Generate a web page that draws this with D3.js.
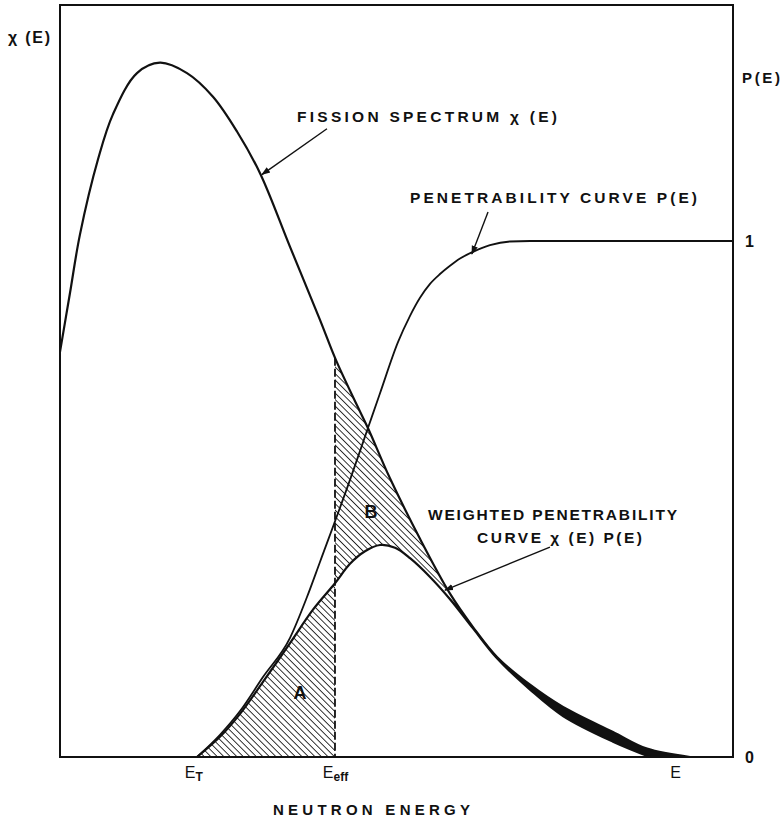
<!DOCTYPE html>
<html><head><meta charset="utf-8">
<script src="https://cdn.jsdelivr.net/npm/d3@7"></script>
<style>
html,body{margin:0;padding:0;background:#fff;}
svg text{font-family:"Liberation Sans",Arial,sans-serif;fill:#111;}
</style></head>
<body>
<svg id="c" width="784" height="817"></svg>
<script>
// ---- data ----
const fissionE   = [0, 0.149, 0.297, 0.565, 0.788, 1.144, 1.486, 1.887, 2.273, 2.630, 2.972, 3.418, 3.863, 4.101, 4.413, 4.577, 4.903, 5.349, 5.795, 6.137, 6.493, 6.984, 7.474, 8.217, 8.722, 9.361];
const fissionChi = [0.583, 0.668, 0.752, 0.860, 0.925, 0.984, 0.999, 0.984, 0.950, 0.900, 0.840, 0.734, 0.629, 0.571, 0.506, 0.473, 0.401, 0.314, 0.235, 0.187, 0.144, 0.104, 0.072, 0.036, 0.012, 0];
const penE = [2.036, 2.377, 2.675, 3.016, 3.418, 3.670, 3.863, 4.309, 4.577, 4.755, 5.022, 5.201, 5.349, 5.498, 5.646, 5.795, 5.944, 6.137, 6.389, 6.686, 6.984, 8.5, 10];
const penP = [0, 0.043, 0.089, 0.155, 0.231, 0.310, 0.378, 0.537, 0.638, 0.705, 0.804, 0.855, 0.890, 0.917, 0.936, 0.952, 0.966, 0.979, 0.992, 0.999, 1.0, 1.0, 1.0];
const weightedE   = [2.036, 2.377, 2.675, 3.016, 3.418, 3.759, 4.086, 4.309, 4.532, 4.755, 4.978, 5.201, 5.498, 5.795, 6.137, 6.493, 6.984, 7.474, 8.217, 8.767];
const weightedChi = [0, 0.029, 0.062, 0.108, 0.164, 0.212, 0.250, 0.278, 0.296, 0.305, 0.301, 0.286, 0.259, 0.227, 0.185, 0.142, 0.097, 0.059, 0.022, 0];
const Eeff = 4.086;
const Emerge = 6.137;
const bottomTickValues = [1.98, 4.086, 9.14];
const bottomTickMain = ["E", "E", "E"];
const bottomTickSub  = ["T", "eff", ""];
const rightTickValues = [0, 1];
const rightTickLabels = ["0", "1"];

// ---- scales ----
const x = d3.scaleLinear().domain([0, 10]).range([60, 733]);
const yChi = d3.scaleLinear().domain([0, 1]).range([757, 62]);
const yP = d3.scaleLinear().domain([0, 1]).range([757, 241]);
const frame = {l: 60, r: 733, t: 5, b: 757};

const svg = d3.select("#c");
const defs = svg.append("defs");
defs.append("pattern").attr("id","hatch").attr("patternUnits","userSpaceOnUse")
  .attr("width",4.6).attr("height",4.6).attr("patternTransform","rotate(-45)")
  .append("line").attr("x1",0).attr("y1",0).attr("x2",0).attr("y2",4.6)
  .attr("stroke","#111").attr("stroke-width",1.7);
defs.append("marker").attr("id","arr").attr("viewBox","0 0 10 10").attr("refX",9).attr("refY",5)
  .attr("markerWidth",9).attr("markerHeight",9).attr("markerUnits","userSpaceOnUse").attr("orient","auto")
  .append("path").attr("d","M0,1.5 L10,5 L0,8.5 Z").attr("fill","#111");
function clipX(id, x0, x1){
  defs.append("clipPath").attr("id",id).append("rect")
    .attr("x",x0).attr("y",0).attr("width",x1-x0).attr("height",817);
}
clipX("cA", x(0), x(Eeff));
clipX("cB", x(Eeff), x(10));
clipX("cM", x(Emerge), x(10));

const fission = fissionE.map((e,i)=>[e, fissionChi[i]]);
const pen = penE.map((e,i)=>[e, penP[i]]);
const weighted = weightedE.map((e,i)=>[e, weightedChi[i]]);

const curve = d3.curveCatmullRom.alpha(0.5);
const lineChi = d3.line().x(d=>x(d[0])).y(d=>yChi(d[1])).curve(curve);
const lineP = d3.line().x(d=>x(d[0])).y(d=>yP(d[1])).curve(d3.curveMonotoneX);
const areaChi = d3.area().x(d=>x(d[0])).y0(yChi(0)).y1(d=>yChi(d[1])).curve(curve);

// region B (hatched between fission and weighted)
svg.append("path").attr("d", areaChi(fission)).attr("fill","url(#hatch)").attr("clip-path","url(#cB)");
// dense tail -> black band
svg.append("path").attr("d", areaChi(fission)).attr("fill","#111").attr("clip-path","url(#cM)");
// white out under weighted for E>=Eeff
svg.append("path").attr("d", areaChi(weighted)).attr("fill","#fff").attr("clip-path","url(#cB)");
// region A
svg.append("path").attr("d", areaChi(weighted)).attr("fill","url(#hatch)").attr("clip-path","url(#cA)");

// frame
svg.append("rect").attr("x",frame.l).attr("y",frame.t).attr("width",frame.r-frame.l).attr("height",frame.b-frame.t)
  .attr("fill","none").attr("stroke","#111").attr("stroke-width",2);

// curves
const fPath = svg.append("path").attr("d", lineChi(fission)).attr("fill","none").attr("stroke","#111").attr("stroke-width",2.2);
svg.append("path").attr("d", lineP(pen)).attr("fill","none").attr("stroke","#111").attr("stroke-width",1.8);
svg.append("path").attr("d", lineChi(weighted)).attr("fill","none").attr("stroke","#111").attr("stroke-width",2.2);

// dashed E_eff line: find fission curve height at Eeff
function yAtX(node, xt){
  const L = node.getTotalLength(); let lo=0, hi=L;
  for(let k=0;k<40;k++){ const m=(lo+hi)/2; const p=node.getPointAtLength(m); if(p.x<xt) lo=m; else hi=m; }
  return node.getPointAtLength(lo).y;
}
const effTop = yAtX(fPath.node(), x(Eeff));
svg.append("line").attr("x1",x(Eeff)).attr("x2",x(Eeff)).attr("y1",effTop).attr("y2",yChi(0))
  .attr("stroke","#111").attr("stroke-width",1.8).attr("stroke-dasharray","8,3");

// right axis
const rAxis = svg.append("g").attr("transform",`translate(${frame.r},0)`)
  .call(d3.axisRight(yP).tickValues(rightTickValues).tickSize(0).tickPadding(12).tickFormat((d,i)=>rightTickLabels[i]));
rAxis.select(".domain").remove();
rAxis.selectAll("text").attr("font-size",16).attr("font-weight","bold").attr("font-family","Liberation Sans, Arial, sans-serif").attr("fill","#111");

// bottom axis
const bAxis = svg.append("g").attr("transform",`translate(0,${frame.b})`)
  .call(d3.axisBottom(x).tickValues(bottomTickValues).tickSize(0).tickPadding(10).tickFormat(()=>""));
bAxis.select(".domain").remove();
bAxis.selectAll(".tick text").each(function(d,i){
  const t = d3.select(this).attr("font-size",16).attr("font-family","Liberation Sans, Arial, sans-serif").attr("fill","#111").attr("text-anchor","middle");
  t.append("tspan").text(bottomTickMain[i]);
  if(bottomTickSub[i]) t.append("tspan").attr("font-size",12).attr("dy",3).attr("font-weight","bold").text(bottomTickSub[i]);
});

// labels
function label(txt, x0, yb, w, fs, weight){
  return svg.append("text").attr("x",x0).attr("y",yb).attr("font-size",fs).attr("font-weight",weight||"bold")
    .attr("textLength",w).attr("lengthAdjust","spacing").text(txt);
}
label("χ (E)", 8, 43, 42, 16);
label("P(E)", 742, 83, 38, 15);
label("FISSION SPECTRUM  χ (E)", 297, 122, 260, 15.5);
label("PENETRABILITY  CURVE  P(E)", 410, 203, 287, 15.5);
label("WEIGHTED  PENETRABILITY", 428, 520, 249, 15.5);
label("CURVE  χ (E)  P(E)", 477, 543, 165, 15.5);
label("NEUTRON  ENERGY", 273, 815, 197, 15, "bold");
svg.append("text").attr("x",300).attr("y",699).attr("font-size",18).attr("font-weight","bold").attr("text-anchor","middle").text("A");
svg.append("text").attr("x",371).attr("y",518).attr("font-size",18).attr("font-weight","bold").attr("text-anchor","middle").text("B");

// annotation arrows (data coords)
const arrows = [
  {s:[3.967, 0.904], e:[3.00, 0.838], sc:yChi},
  {s:[6.36, 1.056], e:[6.12, 0.975], sc:yP},
  {s:[7.28, 0.302], e:[5.72, 0.240], sc:yChi}
];
arrows.forEach(a=>{
  svg.append("line").attr("x1",x(a.s[0])).attr("y1",a.sc(a.s[1])).attr("x2",x(a.e[0])).attr("y2",a.sc(a.e[1]))
    .attr("stroke","#111").attr("stroke-width",1.4).attr("marker-end","url(#arr)");
});
</script>
</body></html>
